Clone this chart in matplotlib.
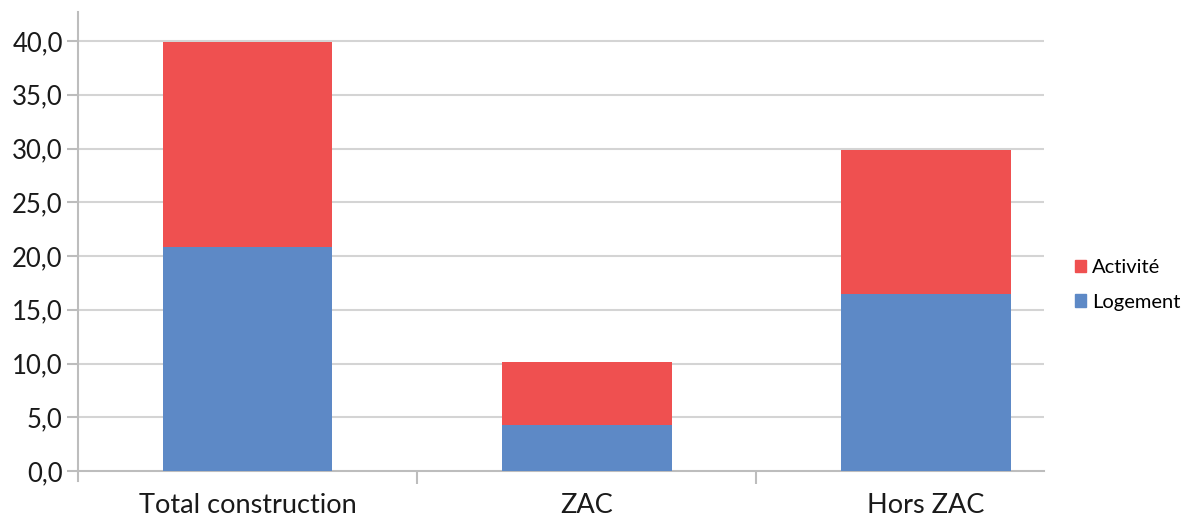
import matplotlib

matplotlib.use("Agg")

import matplotlib.pyplot as plt  # noqa: E402
from matplotlib.lines import Line2D  # noqa: E402
from matplotlib.patches import Patch  # noqa: E402

# Construction surfaces by zone, split into housing and business use.
categories = ["Total construction", "ZAC", "Hors ZAC"]
logement = [20.8, 4.3, 16.5]
activite = [19.1, 5.8, 13.4]
yticks = [0, 5, 10, 15, 20, 25, 30, 35, 40]

RED = "#ef5050"
BLUE = "#5d89c6"
GRID = "#d4d4d4"
AXIS = "#bdbdbd"

plt.rcParams["font.family"] = ["Lato", "DejaVu Sans"]

W, H = 1194, 518
fig = plt.figure(figsize=(W / 100, H / 100), dpi=100)
ax = fig.add_axes([78 / W, 47 / H, (1044 - 78) / W, (506 - 47) / H])

x = range(len(categories))
ax.bar(x, logement, width=0.5, color=BLUE, zorder=3)
ax.bar(x, activite, width=0.5, bottom=logement, color=RED, zorder=3)

ax.set_xlim(-0.5, 2.348)
ax.set_ylim(0, 42.7)

# Horizontal gridlines only up to the last tick
for v in yticks[1:]:
    ax.axhline(v, color=GRID, linewidth=1.5, zorder=1)

for side in ("top", "right", "left"):
    ax.spines[side].set_visible(False)
ax.spines["bottom"].set_color(AXIS)
ax.spines["bottom"].set_linewidth(1.5)

# Vertical axis line runs a little below zero
ax.add_line(Line2D([0, 0], [-0.022, 1], transform=ax.transAxes,
                   color=AXIS, linewidth=1.5, clip_on=False, zorder=4))

ax.set_yticks(yticks)
ax.set_yticklabels([f"{v:.1f}".replace(".", ",") for v in yticks],
                   fontsize=18.5, color="#1a1a1a")
ax.tick_params(axis="y", length=8, width=1.5, color=AXIS, pad=3)

ax.set_xticks(list(x))
ax.set_xticklabels(categories, fontsize=19.5, color="#1a1a1a")
ax.tick_params(axis="x", which="major", length=0, pad=16)
ax.set_xticks([0.5, 1.5], minor=True)
ax.tick_params(axis="x", which="minor", length=9, width=1.5, color=AXIS)

handles = [Patch(color=RED, label="Activité"), Patch(color=BLUE, label="Logement")]
fig.legend(handles=handles, loc="center left",
           bbox_to_anchor=(1065 / W, 1 - 285 / H), frameon=False,
           fontsize=14.5, handlelength=0.55, handleheight=0.55,
           handletextpad=0.3, labelspacing=0.85, borderpad=0)

fig.savefig("out.png", dpi=100, facecolor="white")
